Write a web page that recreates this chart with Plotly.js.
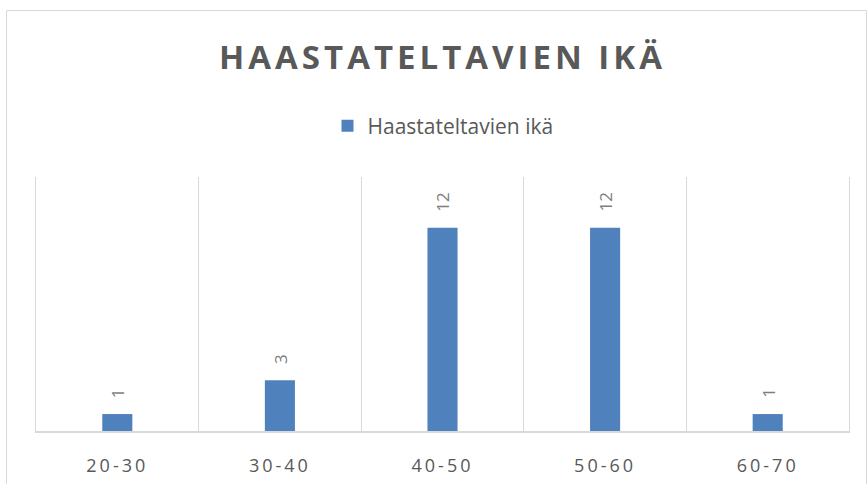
<!DOCTYPE html>
<html>
<head>
<meta charset="utf-8">
<script src="https://cdn.plot.ly/plotly-3.0.1.min.js"></script>
<style>
html,body{margin:0;padding:0;background:#fff;}
#chart{width:867px;height:484px;}
.gtitle{letter-spacing:4px;}
.xtick text{letter-spacing:3px;}
</style>
</head>
<body>
<div id="chart"></div>
<script>
const categories = ["20-30", "30-40", "40-50", "50-60", "60-70"];
const seriesName = "Haastateltavien ikä";
const values = [1, 3, 12, 12, 1];
const chartTitle = "HAASTATELTAVIEN IKÄ";

const W = 867, H = 484;
const L = 36, R = 18, T = 177, B = 53;
const pw = W - L - R, ph = H - T - B;

const trace = {
  type: "bar",
  x: categories,
  y: values,
  name: seriesName,
  marker: {color: "#4f81bd"},
  hoverinfo: "x+y"
};

const labels = categories.map((c, i) => ({
  x: c, y: values[i], xref: "x", yref: "y",
  text: String(values[i]),
  showarrow: false,
  textangle: -90,
  xanchor: "center", yanchor: "bottom",
  yshift: 14,
  font: {family: "Open Sans", size: 17, color: "#7f7f7f"}
}));

const layout = {
  width: W, height: H,
  margin: {l: L, r: R, t: T, b: B, pad: 0},
  paper_bgcolor: "#ffffff",
  plot_bgcolor: "#ffffff",
  bargap: 0.815,
  showlegend: true,
  title: {
    text: "<b>" + chartTitle + "</b>",
    font: {family: "Open Sans", size: 33, color: "#595959"},
    x: 0.5, xref: "paper", xanchor: "center",
    y: 1 - 57 / H, yref: "container", yanchor: "middle"
  },
  legend: {
    orientation: "h",
    x: (443 - L) / pw, xanchor: "center",
    y: (H - B - 126) / ph, yanchor: "middle",
    font: {family: "Open Sans", size: 21, color: "#595959"},
    bgcolor: "rgba(0,0,0,0)"
  },
  annotations: labels,
  xaxis: {
    type: "category",
    tickson: "boundaries",
    showgrid: true,
    gridcolor: "#d9d9d9",
    gridwidth: 1,
    showline: true,
    linecolor: "#d9d9d9",
    linewidth: 2,
    ticks: "",
    ticklabelstandoff: 17,
    tickfont: {family: "Open Sans", size: 18, color: "#595959"},
    zeroline: false
  },
  yaxis: {
    range: [0, 15],
    showgrid: false,
    zeroline: false,
    showticklabels: false,
    ticks: "",
    showline: true,
    mirror: true,
    linecolor: "#d9d9d9",
    linewidth: 1
  },
  shapes: [{
    type: "rect", xref: "paper", yref: "paper",
    x0: (6.5 - L) / pw, x1: (866.5 - L) / pw,
    y0: -0.4, y1: (H - B - 10.5) / ph,
    line: {color: "#d9d9d9", width: 1},
    fillcolor: "rgba(0,0,0,0)",
    layer: "below"
  }]
};

Plotly.newPlot("chart", [trace], layout, {displayModeBar: false, staticPlot: true});
</script>
</body>
</html>
